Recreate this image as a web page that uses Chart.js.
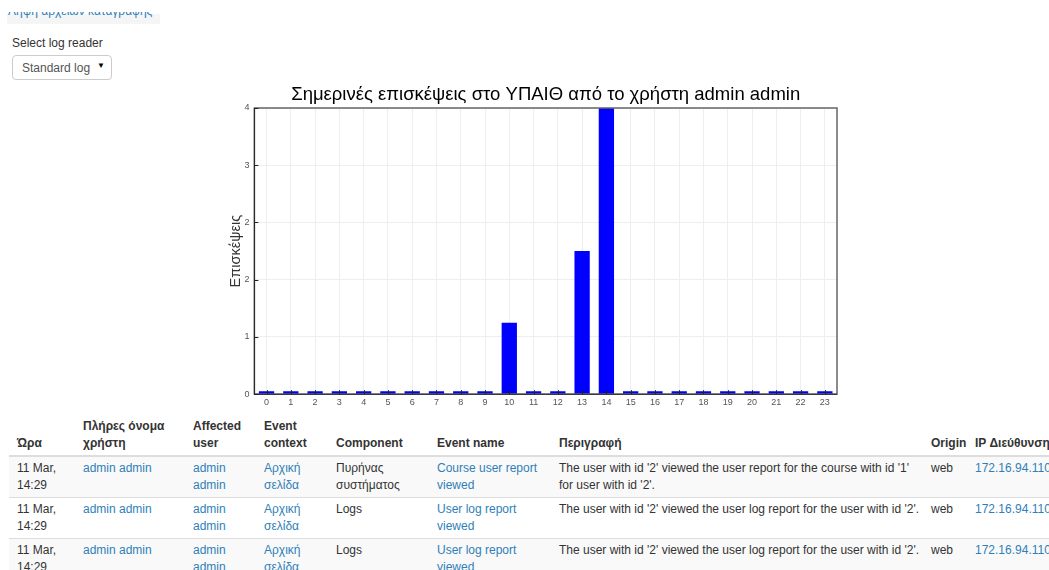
<!DOCTYPE html>
<html>
<head>
<meta charset="utf-8">
<script src="https://cdn.jsdelivr.net/npm/chart.js@4"></script>
<style>
  body { margin: 0; width: 1049px; height: 570px; overflow: hidden; background: #fff;
         font-family: "Liberation Sans", Arial, sans-serif; font-size: 12px; color: #333; }
  a { color: #2f7fb8; text-decoration: none; }
  .topbar { position: absolute; left: 7px; top: 14px; width: 153px; height: 10px; background: #f5f5f5; }
  .toptext { position: absolute; left: 8px; top: 4px; font-size: 12px; line-height: 14px; color: #2f7fb8; white-space: nowrap; }
  .cover { position: absolute; left: 0; top: 0; width: 200px; height: 12px; background: #fff; }
  .label { position: absolute; left: 12px; top: 36px; }
  .select { position: absolute; left: 12px; top: 55px; height: 25px; border: 1px solid #ccc;
            border-radius: 4px; box-sizing: border-box; width: 100px; }
  .select span { position: absolute; left: 9px; top: 5px; color: #555; }
  .select b { position: absolute; right: 6px; top: 5px; font-size: 8px; color: #000; }
  #wrap { position: absolute; left: 227px; top: 80px; width: 632px; height: 331px; }
  table { position: absolute; left: 9px; top: 415px; border-collapse: collapse; table-layout: fixed; width: 1066px; }
  th, td { padding: 3px 8px; line-height: 17px; text-align: left; vertical-align: top; }
  th { vertical-align: bottom; font-weight: bold; border-bottom: 2px solid #ddd; }
  td { border-top: 1px solid #ddd; }
  td.desc { padding-right: 0; }
  tr.odd td { background: #f9f9f9; }
  .nw { white-space: nowrap; }
</style>
</head>
<body>
<div class="topbar"></div>
<div class="toptext">Λήψη αρχείων καταγραφής</div>
<div class="cover"></div>
<div class="label">Select log reader</div>
<div class="select"><span>Standard log</span><b>▼</b></div>
<div id="wrap"><canvas id="visits"></canvas></div>
<table>
  <colgroup>
    <col style="width:66px"><col style="width:110px"><col style="width:71px"><col style="width:72px">
    <col style="width:101px"><col style="width:122px"><col style="width:372px"><col style="width:44px"><col style="width:108px">
  </colgroup>
  <tr><th>Ώρα</th><th>Πλήρες όνομα χρήστη</th><th>Affected user</th><th>Event context</th><th>Component</th><th>Event name</th><th>Περιγραφή</th><th>Origin</th><th class="nw">IP Διεύθυνση</th></tr>
  <tr class="odd"><td>11 Mar, 14:29</td><td><a>admin admin</a></td><td><a>admin admin</a></td><td><a>Αρχική σελίδα</a></td><td>Πυρήνας συστήματος</td><td><a>Course user report viewed</a></td><td class="desc">The user with id '2' viewed the user report for the course with id '1' for user with id '2'.</td><td>web</td><td class="nw"><a>172.16.94.110</a></td></tr>
  <tr><td>11 Mar, 14:29</td><td><a>admin admin</a></td><td><a>admin admin</a></td><td><a>Αρχική σελίδα</a></td><td>Logs</td><td><a>User log report viewed</a></td><td class="desc">The user with id '2' viewed the user log report for the user with id '2'.</td><td>web</td><td class="nw"><a>172.16.94.110</a></td></tr>
  <tr class="odd"><td>11 Mar, 14:29</td><td><a>admin admin</a></td><td><a>admin admin</a></td><td><a>Αρχική σελίδα</a></td><td>Logs</td><td><a>User log report viewed</a></td><td class="desc">The user with id '2' viewed the user log report for the user with id '2'.</td><td>web</td><td class="nw"><a>172.16.94.110</a></td></tr>
</table>
<script>
// hours of the day and visits per hour
const hours = ['0','1','2','3','4','5','6','7','8','9','10','11','12','13','14','15','16','17','18','19','20','21','22','23'];
const visits = [0,0,0,0,0,0,0,0,0,0,1,0,0,2,4,0,0,0,0,0,0,0,0,0];
// y ticks come in steps of 0.8, shown rounded
const yTickLabels = ['0','1','2','2','3','4'];
const chartTitle = 'Σημερινές επισκέψεις στο ΥΠΑΙΘ από το χρήστη admin admin';

// title centred over the plot, plus the frame and small inward ticks
const framePlugin = {
    id: 'frame',
    afterDatasetsDraw(chart) {
        const { ctx, chartArea: a, scales } = chart;
        ctx.save();
        ctx.strokeStyle = '#666';
        ctx.lineWidth = 1.5;
        ctx.strokeRect(a.left, a.top, a.right - a.left, a.bottom - a.top);
        ctx.strokeStyle = '#222';
        ctx.lineWidth = 1;
        ctx.beginPath();
        ctx.moveTo(a.left, a.top); ctx.lineTo(a.left, a.bottom); ctx.lineTo(a.right, a.bottom);
        scales.x.ticks.forEach((t, i) => {
            const x = Math.round(scales.x.getPixelForTick(i)) + 0.5;
            ctx.moveTo(x, a.bottom); ctx.lineTo(x, a.bottom - 4);
        });
        scales.y.ticks.forEach((t, i) => {
            const y = Math.round(scales.y.getPixelForTick(i)) + 0.5;
            ctx.moveTo(a.left, y); ctx.lineTo(a.left + 4, y);
        });
        ctx.stroke();

        ctx.fillStyle = '#000';
        ctx.font = '18.5px "Liberation Sans"';
        ctx.textAlign = 'center';
        ctx.textBaseline = 'middle';
        ctx.fillText(chartTitle, (a.left + a.right) / 2, a.top - 13);
        ctx.restore();
    }
};

const ctx = document.getElementById('visits').getContext('2d');
new Chart(ctx, {
    type: 'bar',
    data: {
        labels: hours,
        datasets: [{
            data: visits,
            backgroundColor: '#0000ff',
            barPercentage: 0.63,
            categoryPercentage: 1,
            minBarLength: 3
        }]
    },
    options: {
        responsive: true,
        maintainAspectRatio: false,
        animation: false,
        layout: { padding: { left: 0, right: 22, top: 28, bottom: 0 } },
        plugins: {
            legend: { display: false },
            tooltip: { enabled: false }
        },
        scales: {
            x: {
                offset: true,
                grid: { offset: false, color: '#eeeeee', drawTicks: false },
                border: { display: false },
                ticks: { color: '#555', font: { family: 'Liberation Sans', size: 9 }, padding: 3, maxRotation: 0, autoSkip: false }
            },
            y: {
                min: 0,
                max: 4,
                grid: { color: '#eeeeee', drawTicks: false },
                border: { display: false },
                ticks: {
                    stepSize: 0.8,
                    color: '#555',
                    font: { family: 'Liberation Sans', size: 9 },
                    padding: 5,
                    callback: (v, i) => yTickLabels[i]
                },
                title: {
                    display: true,
                    text: 'Επισκέψεις',
                    color: '#333',
                    font: { family: 'Liberation Sans', size: 14.5 },
                    padding: { top: 0, bottom: -5 }
                }
            }
        }
    },
    plugins: [framePlugin]
});
</script>
</body>
</html>
